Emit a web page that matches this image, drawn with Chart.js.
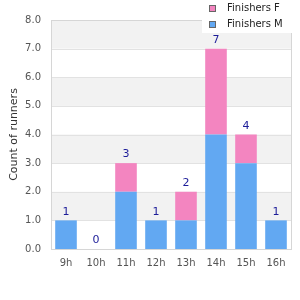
<!DOCTYPE html>
<html>
<head>
<meta charset="utf-8">
<script src="https://cdn.jsdelivr.net/npm/chart.js@4/dist/chart.umd.min.js"></script>
<style>
  html, body { margin: 0; padding: 0; background: #fff; }
  #wrap { width: 300px; height: 300px; }
</style>
</head>
<body>
<div id="wrap"><canvas id="runnersChart" width="300" height="300"></canvas></div>
<script>
/* ---------- data ---------- */
const hours = ["9h", "10h", "11h", "12h", "13h", "14h", "15h", "16h"];
const finishersM = [1, 0, 2, 1, 1, 4, 3, 1];
const finishersF = [0, 0, 1, 0, 1, 3, 1, 0];

const colorM = "#62a8f2";
const colorF = "#f385c0";

/* grey bands behind every other unit + plot border */
const bandsPlugin = {
    id: "bands",
    beforeDatasetsDraw(chart) {
        const { ctx, chartArea, scales } = chart;
        const y = scales.y;
        ctx.save();
        ctx.fillStyle = "#f2f2f2";
        for (let v = 1; v < y.max; v += 2) {
            const top = y.getPixelForValue(v + 1);
            const bottom = y.getPixelForValue(v);
            ctx.fillRect(chartArea.left, top, chartArea.right - chartArea.left, bottom - top);
        }
        ctx.strokeStyle = "#e2e2e2";
        ctx.lineWidth = 1;
        for (let v = 0; v <= y.max; v++) {
            const py = Math.round(y.getPixelForValue(v)) + 0.5;
            ctx.beginPath();
            ctx.moveTo(chartArea.left, py);
            ctx.lineTo(chartArea.right, py);
            ctx.stroke();
        }
        ctx.strokeStyle = "#d6d6d6";
        ctx.strokeRect(Math.round(chartArea.left) + 0.5, Math.round(chartArea.top) + 0.5,
            Math.round(chartArea.right - chartArea.left), Math.round(chartArea.bottom - chartArea.top));
        ctx.restore();
    }
};

/* totals above each stack */
const totalsPlugin = {
    id: "totals",
    afterDatasetsDraw(chart) {
        const { ctx } = chart;
        const topMeta = chart.getDatasetMeta(1);
        ctx.save();
        ctx.font = "11px 'DejaVu Sans'";
        ctx.fillStyle = "#1c1c99";
        ctx.textAlign = "center";
        ctx.textBaseline = "bottom";
        hours.forEach((h, i) => {
            const bar = topMeta.data[i];
            const total = finishersM[i] + finishersF[i];
            ctx.fillText(String(total), bar.x, bar.y - 3);
        });
        ctx.restore();
    }
};

/* legend drawn over the top right corner */
const legendPlugin = {
    id: "cornerLegend",
    afterDraw(chart) {
        const { ctx } = chart;
        ctx.save();
        ctx.fillStyle = "#fff";
        ctx.fillRect(202, 0, 98, 33);
        ctx.font = "10px 'DejaVu Sans'";
        ctx.textBaseline = "middle";
        const items = [
            { text: "Finishers F", color: colorF, y: 5 },
            { text: "Finishers M", color: colorM, y: 21 }
        ];
        items.forEach(it => {
            ctx.fillStyle = it.color;
            ctx.fillRect(209.5, it.y + 0.5, 6, 6);
            ctx.strokeStyle = "#666";
            ctx.lineWidth = 1;
            ctx.strokeRect(209.5, it.y + 0.5, 6, 6);
            ctx.fillStyle = "#222";
            ctx.fillText(it.text, 227, it.y + 3.5);
        });
        ctx.restore();
    }
};

new Chart(document.getElementById("runnersChart"), {
    type: "bar",
    data: {
        labels: hours,
        datasets: [
            { label: "Finishers M", data: finishersM, backgroundColor: colorM },
            { label: "Finishers F", data: finishersF, backgroundColor: colorF }
        ]
    },
    options: {
        responsive: false,
        animation: false,
        layout: { padding: { top: 20, right: 9, bottom: 23, left: 4 } },
        plugins: {
            legend: { display: false },
            tooltip: { enabled: false }
        },
        scales: {
            x: {
                stacked: true,
                grid: { display: false, drawTicks: false },
                border: { display: false },
                ticks: { color: "#555", font: { family: "DejaVu Sans", size: 10 }, padding: 8 }
            },
            y: {
                stacked: true,
                min: 0,
                max: 8,
                afterFit: scale => { scale.width = 47; },
                grid: { display: false, drawTicks: false },
                border: { display: false },
                ticks: {
                    stepSize: 1,
                    color: "#555",
                    font: { family: "DejaVu Sans", size: 10 },
                    padding: 10,
                    callback: v => Number(v).toFixed(1)
                },
                title: {
                    display: true,
                    text: "Count of runners",
                    color: "#333",
                    font: { family: "DejaVu Sans", size: 11 },
                    padding: 4
                }
            }
        }
    },
    plugins: [bandsPlugin, totalsPlugin, legendPlugin]
});
</script>
</body>
</html>
